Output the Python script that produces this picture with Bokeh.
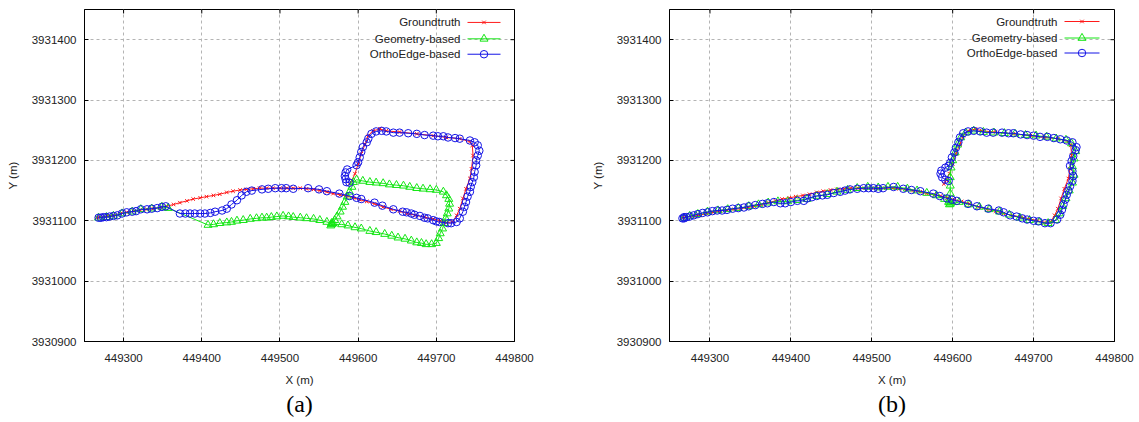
from bokeh.plotting import figure
from bokeh.models import (Range1d, Label, Title, FixedTicker, BasicTickFormatter)
from bokeh.layouts import row
from bokeh.embed import file_html
from bokeh.resources import INLINE

# ---------------- data ----------------
X_RANGE = (449250, 449800)
Y_RANGE = (3930900, 3931450)
X_TICKS = [449300, 449400, 449500, 449600, 449700, 449800]
Y_TICKS = [3930900, 3931000, 3931100, 3931200, 3931300, 3931400]
SERIES = ["Groundtruth", "Geometry-based", "OrthoEdge-based"]
CAPTIONS = ["(a)", "(b)"]

# Groundtruth (same in both panels)
GT_X = [449266, 449270, 449279, 449287, 449296, 449304, 449313, 449321, 449330, 449338,
        449347, 449355, 449364, 449372, 449381, 449389, 449398, 449406, 449415, 449423,
        449432, 449440, 449449, 449457, 449466, 449474, 449483, 449491, 449500, 449509,
        449517, 449526, 449534, 449543, 449551, 449560, 449568, 449577, 449585, 449594,
        449602, 449611, 449621, 449632, 449642, 449653, 449663, 449674, 449685, 449696,
        449705, 449713, 449721, 449726, 449730, 449734, 449738, 449743, 449745, 449747,
        449746, 449743, 449730, 449713, 449696, 449675, 449653, 449636, 449628, 449619,
        449613, 449609, 449604, 449600, 449596, 449592, 449589]
GT_Y = [3931105, 3931106, 3931108, 3931109, 3931112, 3931114, 3931116, 3931118, 3931119, 3931120,
        3931122, 3931124, 3931127, 3931130, 3931133, 3931136, 3931138, 3931140, 3931142, 3931144,
        3931147, 3931149, 3931151, 3931152, 3931153, 3931154, 3931154, 3931154, 3931154, 3931154,
        3931154, 3931154, 3931153, 3931152, 3931150, 3931148, 3931145, 3931143, 3931141, 3931138,
        3931135, 3931132, 3931128, 3931123, 3931119, 3931116, 3931112, 3931109, 3931106, 3931103,
        3931100, 3931097, 3931098, 3931109, 3931120, 3931137, 3931153, 3931170, 3931186, 3931208,
        3931225, 3931231, 3931236, 3931238, 3931241, 3931244, 3931247, 3931249, 3931252, 3931249,
        3931241, 3931227, 3931211, 3931194, 3931178, 3931167, 3931161]

# Panel (a) Geometry-based
A_GEO_X = [449268, 449278, 449287, 449298, 449311, 449322, 449336, 449349, 449357, 449408,
           449415, 449423, 449432, 449438, 449445, 449453, 449462, 449470, 449477, 449483,
           449489, 449496, 449504, 449511, 449517, 449526, 449534, 449543, 449551, 449560,
           449566, 449565, 449567, 449566, 449579, 449587, 449596, 449604, 449615, 449623,
           449634, 449643, 449651, 449660, 449668, 449675, 449681, 449687, 449694, 449700,
           449703, 449705, 449708, 449710, 449712, 449714, 449716, 449717, 449716, 449713,
           449709, 449700, 449692, 449683, 449675, 449666, 449658, 449649, 449640, 449632,
           449623, 449615, 449606, 449598, 449594, 449592, 449589, 449586, 449583, 449580,
           449577, 449573, 449570, 449568]
A_GEO_Y = [3931105, 3931106, 3931108, 3931112, 3931115, 3931119, 3931120, 3931123, 3931121, 3931093,
           3931094, 3931096, 3931097, 3931098, 3931100, 3931101, 3931103, 3931104, 3931105, 3931105,
           3931106, 3931107, 3931108, 3931107, 3931106, 3931105, 3931104, 3931103, 3931101, 3931098,
           3931096, 3931092, 3931095, 3931094, 3931094, 3931092, 3931089, 3931087, 3931083, 3931081,
           3931078, 3931075, 3931072, 3931070, 3931067, 3931064, 3931063, 3931061, 3931061, 3931063,
           3931071, 3931079, 3931087, 3931096, 3931104, 3931112, 3931120, 3931128, 3931136, 3931142,
           3931148, 3931151, 3931152, 3931153, 3931154, 3931156, 3931158, 3931159, 3931160, 3931162,
           3931163, 3931164, 3931166, 3931168, 3931164, 3931156, 3931148, 3931140, 3931131, 3931123,
           3931115, 3931107, 3931101, 3931096]

# Panel (a) OrthoEdge-based
A_ORT_X = [449268, 449271, 449274, 449278, 449282, 449287, 449292, 449298, 449304, 449311,
           449316, 449322, 449330, 449336, 449343, 449349, 449354, 449372, 449379, 449385,
           449391, 449398, 449404, 449411, 449417, 449426, 449432, 449438, 449445, 449451,
           449457, 449464, 449477, 449485, 449494, 449502, 449508, 449517, 449536, 449550,
           449560, 449576, 449589, 449598, 449604, 449621, 449631, 449645, 449657, 449662,
           449668, 449672, 449679, 449685, 449689, 449696, 449700, 449704, 449715, 449719,
           449726, 449730, 449734, 449736, 449738, 449740, 449743, 449744, 449746, 449748,
           449749, 449751, 449751, 449753, 449755, 449753, 449749, 449743, 449730, 449724,
           449715, 449709, 449702, 449696, 449685, 449675, 449664, 449653, 449645, 449636,
           449630, 449623, 449617, 449613, 449611, 449606, 449604, 449602, 449600, 449598,
           449586, 449584, 449583, 449584, 449585, 449589]
A_ORT_Y = [3931105, 3931105, 3931106, 3931106, 3931107, 3931108, 3931109, 3931112, 3931114, 3931115,
           3931116, 3931119, 3931119, 3931120, 3931121, 3931123, 3931124, 3931112, 3931112, 3931112,
           3931112, 3931112, 3931112, 3931113, 3931115, 3931117, 3931120, 3931127, 3931134, 3931142,
           3931148, 3931150, 3931152, 3931153, 3931154, 3931154, 3931154, 3931153, 3931154, 3931152,
           3931149, 3931145, 3931141, 3931138, 3931136, 3931130, 3931125, 3931119, 3931115, 3931114,
           3931112, 3931110, 3931108, 3931105, 3931104, 3931101, 3931099, 3931098, 3931096, 3931096,
           3931098, 3931104, 3931115, 3931123, 3931131, 3931140, 3931148, 3931156, 3931164, 3931172,
           3931181, 3931192, 3931200, 3931208, 3931216, 3931225, 3931230, 3931233, 3931236, 3931237,
           3931238, 3931240, 3931240, 3931241, 3931242, 3931244, 3931245, 3931246, 3931246, 3931248,
           3931249, 3931248, 3931244, 3931236, 3931230, 3931222, 3931214, 3931205, 3931197, 3931192,
           3931185, 3931180, 3931174, 3931169, 3931164, 3931163]

# Panel (b) Geometry-based
B_GEO_X = [449268, 449275, 449285, 449297, 449310, 449322, 449335, 449348, 449360, 449372,
           449384, 449396, 449408, 449420, 449432, 449445, 449457, 449470, 449482, 449495,
           449508, 449520, 449532, 449544, 449556, 449568, 449580, 449590, 449595, 449597,
           449598, 449596, 449608, 449620, 449633, 449645, 449658, 449670, 449683, 449695,
           449707, 449718, 449727, 449732, 449736, 449740, 449744, 449748, 449750, 449748,
           449750, 449752, 449747, 449740, 449728, 449716, 449703, 449690, 449677, 449664,
           449651, 449638, 449626, 449616, 449610, 449606, 449603, 449600, 449598, 449597,
           449597, 449597, 449596]
B_GEO_Y = [3931105, 3931108, 3931111, 3931115, 3931117, 3931119, 3931121, 3931124, 3931127, 3931130,
           3931132, 3931132, 3931134, 3931136, 3931141, 3931144, 3931148, 3931151, 3931154, 3931156,
           3931155, 3931156, 3931156, 3931153, 3931150, 3931146, 3931142, 3931136, 3931131, 3931128,
           3931130, 3931127, 3931131, 3931127, 3931123, 3931119, 3931115, 3931110, 3931105, 3931101,
           3931098, 3931096, 3931101, 3931112, 3931124, 3931137, 3931150, 3931163, 3931176, 3931190,
           3931203, 3931215, 3931228, 3931234, 3931236, 3931239, 3931241, 3931242, 3931244, 3931245,
           3931246, 3931247, 3931249, 3931246, 3931238, 3931226, 3931213, 3931200, 3931188, 3931172,
           3931158, 3931145, 3931133]

# Panel (b) OrthoEdge-based
B_ORT_X = [449266, 449268, 449268, 449271, 449275, 449280, 449285, 449291, 449297, 449303,
           449309, 449315, 449321, 449328, 449335, 449342, 449348, 449356, 449365, 449371,
           449379, 449387, 449393, 449400, 449408, 449416, 449420, 449426, 449432, 449439,
           449445, 449453, 449461, 449467, 449473, 449482, 449490, 449496, 449502, 449508,
           449514, 449527, 449539, 449549, 449560, 449576, 449584, 449593, 449599, 449605,
           449619, 449630, 449644, 449657, 449663, 449671, 449679, 449686, 449692, 449700,
           449706, 449714, 449721, 449729, 449733, 449735, 449737, 449739, 449741, 449743,
           449745, 449748, 449749, 449748, 449745, 449747, 449749, 449752, 449753, 449748,
           449741, 449733, 449725, 449717, 449708, 449700, 449692, 449684, 449675, 449669,
           449661, 449650, 449642, 449634, 449626, 449619, 449613, 449609, 449607, 449604,
           449602, 449599, 449597, 449595, 449591, 449586, 449585, 449587, 449591, 449595]
B_ORT_Y = [3931104, 3931106, 3931104, 3931106, 3931107, 3931109, 3931111, 3931113, 3931114, 3931116,
           3931117, 3931117, 3931118, 3931120, 3931121, 3931122, 3931124, 3931126, 3931128, 3931129,
           3931131, 3931129, 3931129, 3931131, 3931133, 3931133, 3931137, 3931139, 3931141, 3931142,
           3931143, 3931146, 3931148, 3931150, 3931152, 3931153, 3931154, 3931154, 3931154, 3931153,
           3931154, 3931156, 3931153, 3931151, 3931149, 3931145, 3931141, 3931137, 3931135, 3931133,
           3931128, 3931124, 3931120, 3931117, 3931114, 3931109, 3931107, 3931104, 3931102, 3931100,
           3931099, 3931096, 3931096, 3931102, 3931110, 3931118, 3931127, 3931135, 3931143, 3931150,
           3931157, 3931166, 3931174, 3931182, 3931191, 3931199, 3931207, 3931217, 3931222, 3931230,
           3931233, 3931235, 3931237, 3931239, 3931239, 3931241, 3931242, 3931243, 3931245, 3931245,
           3931246, 3931246, 3931246, 3931248, 3931249, 3931248, 3931245, 3931238, 3931230, 3931221,
           3931213, 3931205, 3931196, 3931191, 3931188, 3931183, 3931178, 3931172, 3931168, 3931166]

# ---------------- style ----------------
FONT = "Liberation Sans"
FS = "11.5px"
TXT = "#222222"
RED = "#ff1a1a"
GREEN = "#14e614"
BLUE = "#1414e6"
H = 422
COLORS = [RED, GREEN, BLUE]
MARKERS = ["x", "triangle", "circle"]
MSIZES = [5, 8, 7.5]
TICK_LEN = 4


def make_panel(caption, series, width, bl, br, bt, bb, cap_offset,
               leg_x0, leg_x1, leg_rows, text_right):
    fw = width - bl - br
    fh = H - bt - bb
    p = figure(width=width, height=H, x_range=Range1d(*X_RANGE), y_range=Range1d(*Y_RANGE),
               output_backend="svg", toolbar_location=None,
               min_border_left=bl, min_border_right=br, min_border_top=bt, min_border_bottom=bb)
    p.background_fill_color = "white"
    p.border_fill_color = "white"
    p.outline_line_color = "black"
    p.outline_line_width = 1
    p.outline_line_alpha = 1

    for ax, ticks in ((p.xaxis[0], X_TICKS), (p.yaxis[0], Y_TICKS)):
        ax.ticker = FixedTicker(ticks=ticks)
        ax.formatter = BasicTickFormatter(use_scientific=False)
        ax.major_label_text_font = FONT
        ax.major_label_text_font_size = FS
        ax.major_label_text_color = TXT
        ax.axis_label_text_font = FONT
        ax.axis_label_text_font_size = FS
        ax.axis_label_text_font_style = "normal"
        ax.axis_label_text_color = TXT
        ax.major_tick_in = TICK_LEN
        ax.major_tick_out = 0
        ax.minor_tick_line_color = None
        ax.axis_line_color = "black"
        ax.major_tick_line_color = "black"
    p.xaxis.axis_label = "X (m)"
    p.yaxis.axis_label = "Y (m)"
    p.xaxis.major_label_standoff = 12
    p.xaxis.axis_label_standoff = 9
    p.yaxis.major_label_standoff = 8
    p.yaxis.axis_label_standoff = 10

    p.grid.grid_line_color = "#b4b4b4"
    p.grid.grid_line_dash = "3 3"
    p.grid.grid_line_width = 1

    sx = (X_RANGE[1] - X_RANGE[0]) / fw
    sy = (Y_RANGE[1] - Y_RANGE[0]) / fh

    # mirrored inward ticks on the top and right frame edges (gnuplot style)
    p.segment(x0=X_TICKS, y0=[Y_RANGE[1]] * len(X_TICKS), x1=X_TICKS,
              y1=[Y_RANGE[1] - TICK_LEN * sy] * len(X_TICKS), line_color="black", line_width=1)
    p.segment(x0=[X_RANGE[1]] * len(Y_TICKS), y0=Y_TICKS,
              x1=[X_RANGE[1] - TICK_LEN * sx] * len(Y_TICKS), y1=Y_TICKS,
              line_color="black", line_width=1)

    for (xs, ys), col, mk, ms in zip(series, COLORS, MARKERS, MSIZES):
        p.line(xs, ys, line_color=col, line_width=1)
        p.scatter(xs, ys, marker=mk, size=ms, fill_color=None, line_color=col, line_width=1)

    # legend: text on the left, sample (line + marker) on the right, no box
    def dx(px):
        return X_RANGE[0] + px * sx

    def dy(py):
        return Y_RANGE[1] - py * sy

    ly = [dy(r) for r in leg_rows]
    p.segment(x0=[dx(leg_x0)] * 3, y0=ly, x1=[dx(leg_x1)] * 3, y1=ly,
              line_color=COLORS, line_width=1)
    p.scatter(x=[dx((leg_x0 + leg_x1) / 2)] * 3, y=ly, marker=MARKERS, size=MSIZES,
              fill_color=None, line_color=COLORS, line_width=1)
    for name, yy in zip(SERIES, ly):
        p.add_layout(Label(x=dx(text_right), y=yy, text=name, text_align="right",
                           text_baseline="middle", text_font=FONT,
                           text_font_size=FS, text_color=TXT))

    cap = Title(text=caption, align="center", offset=cap_offset, standoff=0,
                text_font="Liberation Serif", text_font_size="24px",
                text_font_style="normal", text_color="black")
    p.add_layout(cap, "below")
    return p


pa = make_panel(CAPTIONS[0], [(GT_X, GT_Y), (A_GEO_X, A_GEO_Y), (A_ORT_X, A_ORT_Y)],
                560, 84, 46, 7, 81, 2, 383, 416, [13, 29.5, 45], 376)
pb = make_panel(CAPTIONS[1], [(GT_X, GT_Y), (B_GEO_X, B_GEO_Y), (B_ORT_X, B_ORT_Y)],
                579, 109, 25, 9, 81, -16, 395, 430, [12, 28.5, 43.5], 388)

layout = row(pa, pb)
open("out.html", "w").write(file_html(layout, INLINE))
